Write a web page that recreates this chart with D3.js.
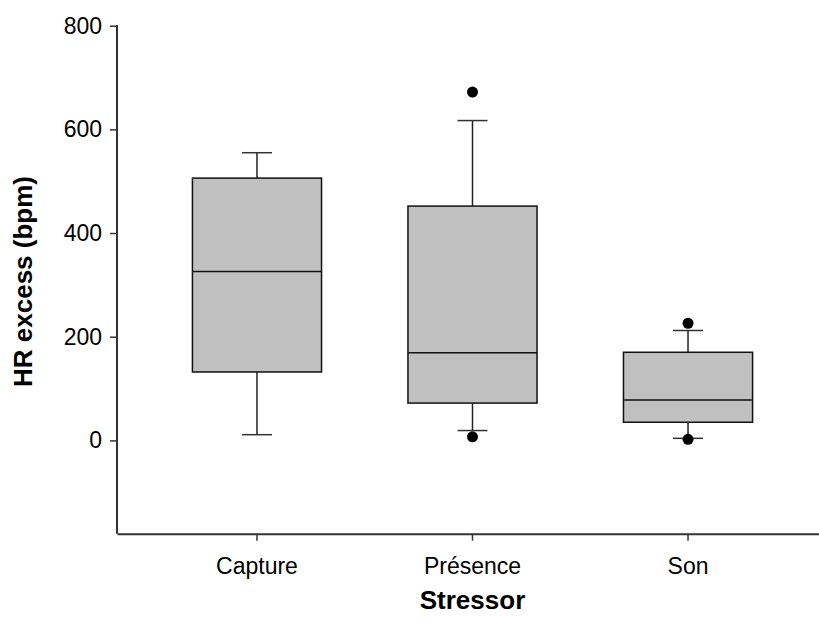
<!DOCTYPE html>
<html>
<head>
<meta charset="utf-8">
<script src="https://cdn.jsdelivr.net/npm/d3@7"></script>
<style>
  html, body { margin: 0; padding: 0; background: #fff; }
  svg { display: block; }
  text { font-family: "Liberation Sans", Arial, sans-serif; fill: #000; }
</style>
</head>
<body>
<svg id="chart" width="819" height="626"></svg>
<script>
// ---- data ----
const categories = ["Capture", "Présence", "Son"];
const whiskerLow  = [11, 19, 4];
const q1          = [132, 72, 35];
const medians     = [326, 169, 78];
const q3          = [506, 452, 170];
const whiskerHigh = [555, 617, 212];
const outliers    = [[], [672, 7], [226, 2]];
const yTicks      = [0, 200, 400, 600, 800];
const yLabel = "HR excess (bpm)";
const xLabel = "Stressor";

// ---- layout ----
const svg = d3.select("#chart");
const mLeft = 117, mTop = 25.7, mBottom = 533.7, mRight = 828;
const x = d3.scaleBand().domain(categories).range([mLeft, mRight]).paddingInner(0.401).paddingOuter(0.35);
const y = d3.scaleLinear().domain([-180, 800]).range([mBottom, mTop]);
const bw = x.bandwidth();

const axisColor = "#333";

// y axis
const yAxis = svg.append("g").attr("transform", `translate(${mLeft},0)`)
  .call(d3.axisLeft(y).tickValues(yTicks).tickSize(7).tickPadding(8).tickSizeOuter(0));
yAxis.select(".domain").remove();
yAxis.selectAll(".tick line").attr("stroke", axisColor).attr("stroke-width", 1.5);
yAxis.selectAll(".tick text").attr("font-size", 23).attr("font-family", "Liberation Sans, Arial, sans-serif").attr("fill", "#000");
svg.append("line").attr("x1", mLeft).attr("x2", mLeft).attr("y1", y(800) - 0.75).attr("y2", mBottom)
  .attr("stroke", axisColor).attr("stroke-width", 2);

// x axis
const xAxis = svg.append("g").attr("transform", `translate(0,${mBottom})`)
  .call(d3.axisBottom(x).tickSize(7).tickPadding(17).tickSizeOuter(0));
xAxis.select(".domain").attr("stroke", axisColor).attr("stroke-width", 2);
xAxis.selectAll(".tick line").attr("stroke", axisColor).attr("stroke-width", 1.5);
xAxis.selectAll(".tick text").attr("font-size", 23).attr("font-family", "Liberation Sans, Arial, sans-serif").attr("fill", "#000");

// boxes
const boxes = svg.append("g");
categories.forEach((c, i) => {
  const cx = x(c) + bw / 2;
  const g = boxes.append("g");
  g.append("line").attr("x1", cx).attr("x2", cx).attr("y1", y(whiskerHigh[i])).attr("y2", y(q3[i]))
    .attr("stroke", "#222").attr("stroke-width", 1.5);
  g.append("line").attr("x1", cx).attr("x2", cx).attr("y1", y(q1[i])).attr("y2", y(whiskerLow[i]))
    .attr("stroke", "#222").attr("stroke-width", 1.5);
  [whiskerHigh[i], whiskerLow[i]].forEach(v => {
    g.append("line").attr("x1", cx - 15).attr("x2", cx + 15).attr("y1", y(v)).attr("y2", y(v))
      .attr("stroke", "#333").attr("stroke-width", 1.5);
  });
  g.append("rect").attr("x", x(c)).attr("width", bw)
    .attr("y", y(q3[i])).attr("height", y(q1[i]) - y(q3[i]))
    .attr("fill", "#c0c0c0").attr("stroke", "#111").attr("stroke-width", 1.5);
  g.append("line").attr("x1", x(c)).attr("x2", x(c) + bw).attr("y1", y(medians[i])).attr("y2", y(medians[i]))
    .attr("stroke", "#111").attr("stroke-width", 1.5);
  outliers[i].forEach(v => {
    g.append("circle").attr("cx", cx).attr("cy", y(v)).attr("r", 5.5).attr("fill", "#000");
  });
});

// axis titles
svg.append("text").attr("x", x("Présence") + bw / 2).attr("y", 609)
  .attr("text-anchor", "middle").attr("font-size", 26).attr("font-weight", "bold").text(xLabel);
svg.append("text").attr("transform", `translate(32,${(173 + 390) / 2}) rotate(-90)`)
  .attr("text-anchor", "middle").attr("font-size", 26).attr("font-weight", "bold").text(yLabel);
</script>
</body>
</html>
